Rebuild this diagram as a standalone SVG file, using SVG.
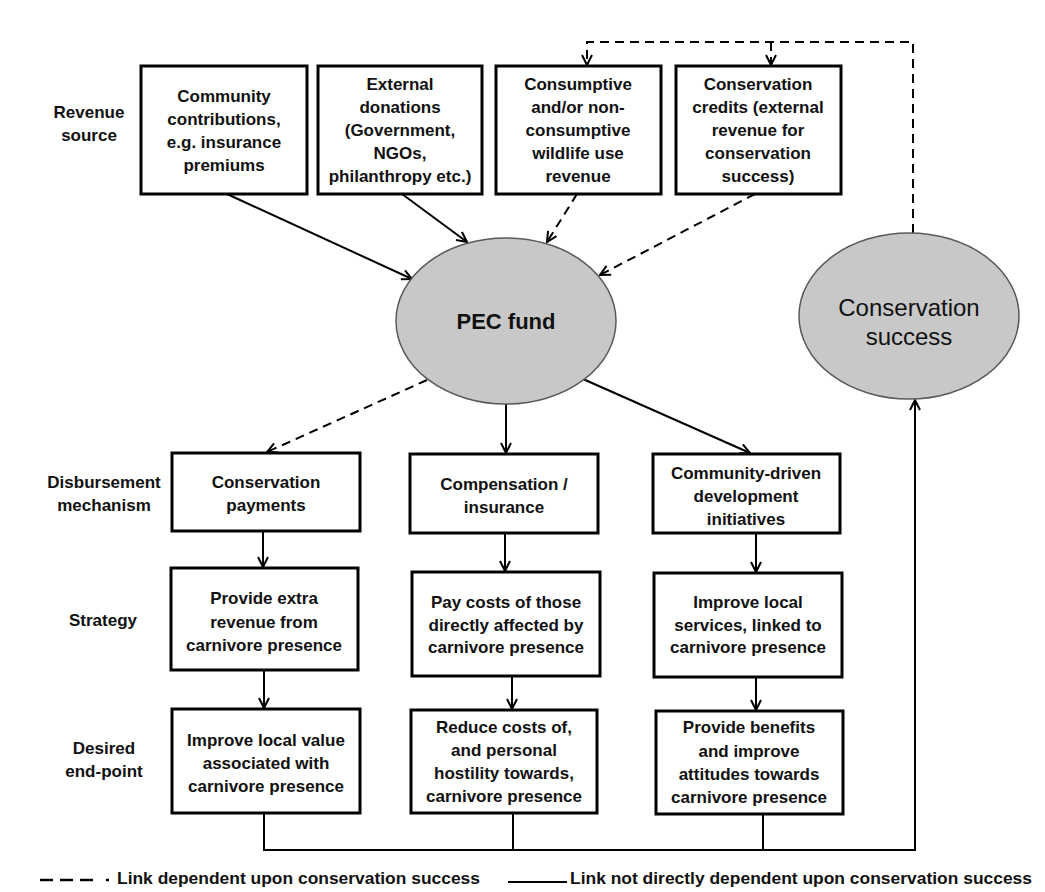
<svg xmlns="http://www.w3.org/2000/svg" width="1045" height="892" viewBox="0 0 1045 892">
<style>
.bx{fill:#fff;stroke:#000;stroke-width:3}
.el{fill:#c8c8c8;stroke:#5a5a5a;stroke-width:1.5}
.t{font-family:"Liberation Sans",Arial,sans-serif;font-weight:bold;font-size:17px;fill:#111;text-anchor:middle}
.big{font-family:"Liberation Sans",Arial,sans-serif;font-weight:bold;font-size:22px;fill:#111;text-anchor:middle}
.big2{font-family:"Liberation Sans",Arial,sans-serif;font-weight:normal;font-size:24px;fill:#111;text-anchor:middle}
.lg{font-family:"Liberation Sans",Arial,sans-serif;font-weight:bold;font-size:17px;fill:#111}
.s{fill:none;stroke:#000;stroke-width:2}
.d{fill:none;stroke:#000;stroke-width:2;stroke-dasharray:9 6}
</style>
<defs>
<marker id="ah" viewBox="0 0 12 12" refX="11" refY="6" markerWidth="12" markerHeight="12" markerUnits="userSpaceOnUse" orient="auto">
<path d="M1,1 L11,6 L1,11" fill="none" stroke="#000" stroke-width="2"/>
</marker>
</defs>
<rect width="1045" height="892" fill="#fff"/>

<g id="labels">
<text class="t" x="89" y="118">Revenue</text>
<text class="t" x="89" y="141">source</text>
<text class="t" x="104" y="488">Disbursement</text>
<text class="t" x="104" y="511">mechanism</text>
<text class="t" x="103" y="626">Strategy</text>
<text class="t" x="104" y="754">Desired</text>
<text class="t" x="104" y="777">end-point</text>
</g>

<g id="connectors">
<path class="s" d="M227,194 L412,279" marker-end="url(#ah)"/>
<path class="s" d="M402,194 L467,242" marker-end="url(#ah)"/>
<path class="d" d="M577,194 L547,242" marker-end="url(#ah)"/>
<path class="d" d="M755,194 L600,275" marker-end="url(#ah)"/>
<path class="d" d="M913,233 V42 H587 V65" marker-end="url(#ah)"/>
<path class="d" d="M771,42 V65" marker-end="url(#ah)"/>
<path class="d" d="M427,380 L267,452" marker-end="url(#ah)"/>
<path class="s" d="M506,404 V453" marker-end="url(#ah)"/>
<path class="s" d="M583,379 L750,453" marker-end="url(#ah)"/>
<path class="s" d="M263,531 V567" marker-end="url(#ah)"/>
<path class="s" d="M505,533 V571" marker-end="url(#ah)"/>
<path class="s" d="M756,533 V572" marker-end="url(#ah)"/>
<path class="s" d="M264,670 V708" marker-end="url(#ah)"/>
<path class="s" d="M512,676 V709" marker-end="url(#ah)"/>
<path class="s" d="M756,677 V710" marker-end="url(#ah)"/>
<path class="s" d="M264,813 V850 H915 V400" marker-end="url(#ah)"/>
<path class="s" d="M513,813 V850"/>
<path class="s" d="M763,814 V850"/>
</g>

<g id="community-contributions">
<rect class="bx" x="141" y="66" width="166" height="128"/>
<text class="t" x="224" y="102">Community</text>
<text class="t" x="224" y="125">contributions,</text>
<text class="t" x="224" y="148">e.g. insurance</text>
<text class="t" x="224" y="171">premiums</text>
</g>
<g id="external-donations">
<rect class="bx" x="318" y="66" width="164" height="128"/>
<text class="t" x="400" y="90">External</text>
<text class="t" x="400" y="113">donations</text>
<text class="t" x="400" y="136">(Government,</text>
<text class="t" x="400" y="159">NGOs,</text>
<text class="t" x="400" y="182">philanthropy etc.)</text>
</g>
<g id="wildlife-use-revenue">
<rect class="bx" x="496" y="66" width="165" height="128"/>
<text class="t" x="578" y="90">Consumptive</text>
<text class="t" x="578" y="113">and/or non-</text>
<text class="t" x="578" y="136">consumptive</text>
<text class="t" x="578" y="159">wildlife use</text>
<text class="t" x="578" y="182">revenue</text>
</g>
<g id="conservation-credits">
<rect class="bx" x="676" y="66" width="165" height="128"/>
<text class="t" x="758" y="90">Conservation</text>
<text class="t" x="758" y="113">credits (external</text>
<text class="t" x="758" y="136">revenue for</text>
<text class="t" x="758" y="159">conservation</text>
<text class="t" x="758" y="182">success)</text>
</g>

<g id="pec-fund">
<ellipse class="el" cx="506" cy="321" rx="110" ry="83"/>
<text class="big" x="506" y="329">PEC fund</text>
</g>
<g id="conservation-success">
<ellipse class="el" cx="909" cy="316" rx="110" ry="83"/>
<text class="big2" x="909" y="316">Conservation</text>
<text class="big2" x="909" y="345">success</text>
</g>

<g id="conservation-payments">
<rect class="bx" x="172" y="453" width="188" height="78"/>
<text class="t" x="266" y="488">Conservation</text>
<text class="t" x="266" y="511">payments</text>
</g>
<g id="compensation-insurance">
<rect class="bx" x="410" y="454" width="188" height="79"/>
<text class="t" x="504" y="490">Compensation /</text>
<text class="t" x="504" y="513">insurance</text>
</g>
<g id="community-development">
<rect class="bx" x="653" y="454" width="187" height="79"/>
<text class="t" x="746" y="479">Community-driven</text>
<text class="t" x="746" y="502">development</text>
<text class="t" x="746" y="525">initiatives</text>
</g>

<g id="strategy-extra-revenue">
<rect class="bx" x="171" y="568" width="187" height="102"/>
<text class="t" x="264" y="604">Provide extra</text>
<text class="t" x="264" y="628">revenue from</text>
<text class="t" x="264" y="651">carnivore presence</text>
</g>
<g id="strategy-pay-costs">
<rect class="bx" x="412" y="572" width="188" height="104"/>
<text class="t" x="506" y="608">Pay costs of those</text>
<text class="t" x="506" y="631">directly affected by</text>
<text class="t" x="506" y="653">carnivore presence</text>
</g>
<g id="strategy-local-services">
<rect class="bx" x="654" y="573" width="188" height="104"/>
<text class="t" x="748" y="608">Improve local</text>
<text class="t" x="748" y="631">services, linked to</text>
<text class="t" x="748" y="653">carnivore presence</text>
</g>

<g id="end-local-value">
<rect class="bx" x="172" y="709" width="188" height="104"/>
<text class="t" x="266" y="746">Improve local value</text>
<text class="t" x="266" y="769">associated with</text>
<text class="t" x="266" y="792">carnivore presence</text>
</g>
<g id="end-reduce-costs">
<rect class="bx" x="411" y="710" width="186" height="103"/>
<text class="t" x="504" y="733">Reduce costs of,</text>
<text class="t" x="504" y="756">and personal</text>
<text class="t" x="504" y="779">hostility towards,</text>
<text class="t" x="504" y="802">carnivore presence</text>
</g>
<g id="end-benefits">
<rect class="bx" x="656" y="711" width="187" height="103"/>
<text class="t" x="749" y="733">Provide benefits</text>
<text class="t" x="749" y="757">and improve</text>
<text class="t" x="749" y="780">attitudes towards</text>
<text class="t" x="749" y="803">carnivore presence</text>
</g>

<g id="legend">
<path d="M40,880 H53 M60,880 H73 M80,880 H93 M106,880 H109" stroke="#000" stroke-width="2.5" fill="none"/>
<text class="lg" x="117" y="884" textLength="363" lengthAdjust="spacingAndGlyphs">Link dependent upon conservation success</text>
<path d="M508,882 H567" stroke="#000" stroke-width="2" fill="none"/>
<text class="lg" x="570" y="884" textLength="462" lengthAdjust="spacingAndGlyphs">Link not directly dependent upon conservation success</text>
</g>
</svg>
